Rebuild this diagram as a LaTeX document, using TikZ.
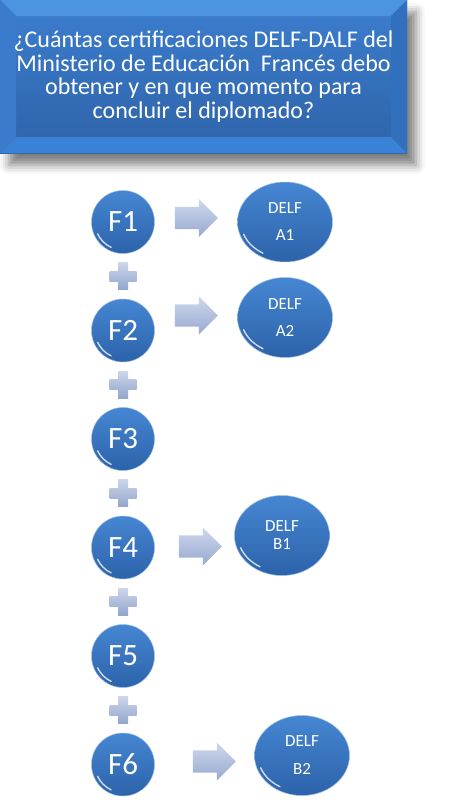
\documentclass[tikz,border=0pt]{standalone}
\usepackage{fontspec}
\setmainfont{Carlito}
\usetikzlibrary{positioning}
\usetikzlibrary{calc}
\usetikzlibrary{shapes.geometric}
\usetikzlibrary{shapes.arrows}
\usetikzlibrary{shadows.blur}
\definecolor{titulotop}{HTML}{3C7ECF}
\definecolor{titulobot}{HTML}{2E63A8}
\definecolor{biselarr}{HTML}{4C93E0}
\definecolor{biselabj}{HTML}{3A82D6}
\definecolor{biselizq}{HTML}{3A7BCB}
\definecolor{biselder}{HTML}{3170BC}
\definecolor{fasetop}{HTML}{4686D2}
\definecolor{fasebot}{HTML}{2C63AA}
\definecolor{faseborde}{HTML}{9CBDE6}
\definecolor{flechatop}{HTML}{CFD8EC}
\definecolor{flechabot}{HTML}{97A9D0}
\definecolor{crucetop}{HTML}{CCD6EA}
\definecolor{crucebot}{HTML}{93A5CC}
\tikzset{
  titulo/.style={rectangle,minimum width=407pt,minimum height=153pt,inner sep=0pt,
    shading=axis,top color=titulotop,bottom color=titulobot,
    blur shadow={shadow xshift=9pt,shadow yshift=-12pt,shadow blur radius=9pt,shadow opacity=50},
    text=white,align=center,font=\fontsize{24}{23.5}\selectfont,
    path picture={
      \coordinate (nw) at (path picture bounding box.north west);
      \coordinate (ne) at (path picture bounding box.north east);
      \coordinate (sw) at (path picture bounding box.south west);
      \coordinate (se) at (path picture bounding box.south east);
      \fill[biselarr] (nw) -- (ne) -- ([shift={(-16pt,-16pt)}]ne) -- ([shift={(16pt,-16pt)}]nw) -- cycle;
      \fill[biselabj] (sw) -- (se) -- ([shift={(-16pt,16pt)}]se) -- ([shift={(16pt,16pt)}]sw) -- cycle;
      \fill[biselizq] (nw) -- (sw) -- ([shift={(16pt,16pt)}]sw) -- ([shift={(16pt,-16pt)}]nw) -- cycle;
      \fill[biselder] (ne) -- (se) -- ([shift={(-16pt,16pt)}]se) -- ([shift={(-16pt,-16pt)}]ne) -- cycle;
    }},
  fase/.style={circle,minimum size=63pt,inner sep=0pt,shading=axis,top color=fasetop,bottom color=fasebot,
    draw=faseborde,line width=.5pt,text=white,font=\fontsize{31}{31}\selectfont,
    path picture={
      \draw[white,opacity=.75,line width=1.4pt,line cap=round]
        ([shift={(205:28pt)}]path picture bounding box.center) arc[start angle=205,end angle=245,radius=28pt];
    }},
  flecha/.style={single arrow,minimum height=43pt,minimum width=0pt,single arrow head extend=8pt,
    inner xsep=0pt,inner ysep=11pt,shading=axis,top color=flechatop,bottom color=flechabot},
  delf/.style={ellipse,minimum width=95pt,minimum height=80pt,inner sep=0pt,shading=axis,
    top color=fasetop,bottom color=fasebot,draw=faseborde,line width=.5pt,
    text=white,align=center,font=\fontsize{17}{18}\selectfont,
    path picture={
      \draw[white,opacity=.75,line width=1.4pt,line cap=round]
        ([shift={(200:44pt and 36pt)}]path picture bounding box.center) arc[start angle=200,end angle=240,x radius=44pt,y radius=36pt];
    }},
  cruz/.style={rectangle,minimum size=27pt,inner sep=0pt,
    path picture={
      \shade[top color=crucetop,bottom color=crucebot]
        ([shift={(-13.5pt,-5pt)}]path picture bounding box.center) rectangle ([shift={(13.5pt,5pt)}]path picture bounding box.center);
      \shade[top color=crucetop,bottom color=crucebot]
        ([shift={(-5pt,-13.5pt)}]path picture bounding box.center) rectangle ([shift={(5pt,13.5pt)}]path picture bounding box.center);
    }}
}
\begin{document}
\begin{tikzpicture}[x=1pt,y=-1pt,node distance=45pt]
  \useasboundingbox (0,0) rectangle (450,806);
  \node (pregunta) [titulo] at (203.5,76.5)
    {¿Cuántas certificaciones DELF-DALF del\\ Ministerio de Educación\ \ Francés debo\\ obtener y en que momento para\\ concluir el diplomado?};
  % fases
  \node (f1) [fase] at (123,222) {F1};
  \node (f2) [fase,below=of f1] {F2};
  \node (f3) [fase,below=of f2] {F3};
  \node (f4) [fase,below=of f3] {F4};
  \node (f5) [fase,below=of f4] {F5};
  \node (f6) [fase,below=of f5] {F6};
  \foreach \a/\b in {1/2,2/3,3/4,4/5,5/6}
    \node (mas\a) [cruz] at ($(f\a)!.5!(f\b)$) {};
  % flechas y certificaciones
  \node (flecha1) [flecha,right=20pt of f1,yshift=4pt] {};
  \node (flecha2) [flecha,right=20pt of f2,yshift=15pt] {};
  \node (flecha4) [flecha,right=24pt of f4,yshift=1pt] {};
  \node (flecha6) [flecha,right=38pt of f6,yshift=3pt] {};
  \node (a1) [delf,right=19pt of flecha1,yshift=-4pt] {DELF\\[9pt]A1};
  \node (a2) [delf,right=19pt of flecha2,yshift=-2pt] {DELF\\[9pt]A2};
  \node (b1) [delf,right=12pt of flecha4,yshift=11pt] {DELF\\B1};
  \node (b2) [delf,right=18pt of flecha6,yshift=6pt] {DELF\\[10pt]B2};
\end{tikzpicture}
\end{document}
